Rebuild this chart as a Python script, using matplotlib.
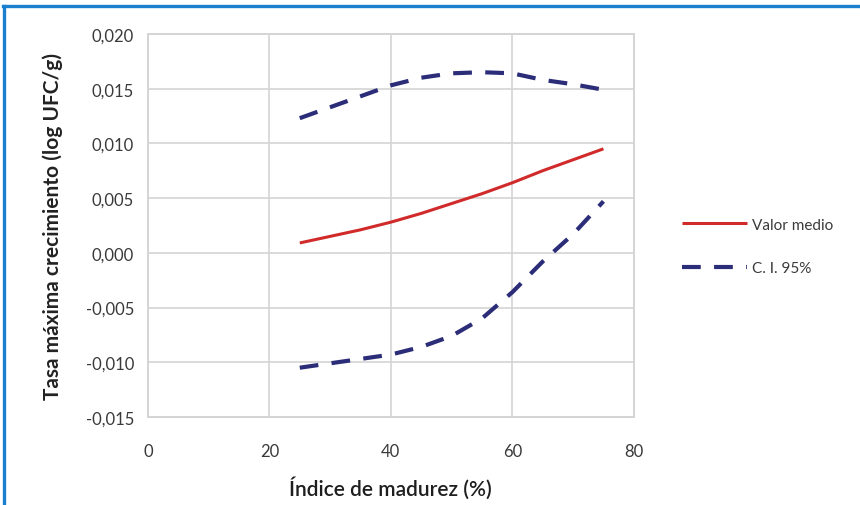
import matplotlib
matplotlib.use("Agg")
import matplotlib.pyplot as plt
from matplotlib.lines import Line2D
from matplotlib.ticker import FuncFormatter, MultipleLocator

# maturity index (%) and maximum growth rate (log UFC/g)
madurez = [25, 30, 35, 40, 45, 50, 55, 60, 65, 70, 75]
valor_medio = [0.0009, 0.0015, 0.0021, 0.0028, 0.0036, 0.0045, 0.0054, 0.0064, 0.0075, 0.0085, 0.0095]
ic_superior = [0.0123, 0.0133, 0.0143, 0.0153, 0.0160, 0.0164, 0.0165, 0.0164, 0.0158, 0.0154, 0.0149]
ic_inferior = [-0.0105, -0.0101, -0.0097, -0.0093, -0.0086, -0.0076, -0.0060, -0.0036, -0.0008, 0.0017, 0.0047]

RED = "#d12a2a"
NAVY = "#2b2d78"
GRID = "#d4d4d4"
TXT = "#3a3a3a"

plt.rcParams["font.family"] = ["Lato", "DejaVu Sans"]

fig = plt.figure(figsize=(8.6, 5.06), dpi=100)
ax = fig.add_axes([0.172, 0.174, 0.565, 0.757])

ax.plot(madurez, valor_medio, color=RED, lw=2.2, label="Valor medio",
        solid_capstyle="butt")
ax.plot(madurez, ic_superior, color=NAVY, lw=3.0, ls=(0, (4.5, 3.2)),
        label="C. I. 95%")
ax.plot(madurez, ic_inferior, color=NAVY, lw=3.0, ls=(0, (4.5, 3.2)))

ax.set_xlim(0, 80)
ax.set_ylim(-0.015, 0.020)
ax.xaxis.set_major_locator(MultipleLocator(20))
ax.yaxis.set_major_locator(MultipleLocator(0.005))
ax.yaxis.set_major_formatter(FuncFormatter(
    lambda v, _: f"{v:.3f}".replace(".", ",").replace("-0,000", "0,000")))

ax.grid(True, color=GRID, lw=1.2)
ax.set_axisbelow(True)
for s in ax.spines.values():
    s.set_color(GRID)
    s.set_linewidth(1.4)
ax.tick_params(length=0, labelsize=12, colors=TXT, pad=10)
ax.tick_params(axis="x", pad=19)

ax.set_ylabel("Tasa máxima crecimiento (log UFC/g)", fontsize=15,
              fontweight="bold", color="#222222", labelpad=16)
ax.set_xlabel("Índice de madurez (%)", fontsize=15, color="#1e1e1e",
              fontweight="semibold", labelpad=12)

ax.legend(loc="center left", bbox_to_anchor=(1.07, 0.445), frameon=False,
          fontsize=11, handlelength=4.3, handletextpad=0.3,
          labelspacing=1.95, labelcolor=TXT)

# blue frame along top and left edges
fig.add_artist(Line2D([0.004, 1.0], [0.986, 0.986], transform=fig.transFigure,
                      color="#1b7fd0", lw=2.4))
fig.add_artist(Line2D([0.005, 0.005], [0.0, 0.986], transform=fig.transFigure,
                      color="#1b7fd0", lw=2.4))

fig.savefig("out.png", dpi=100)
